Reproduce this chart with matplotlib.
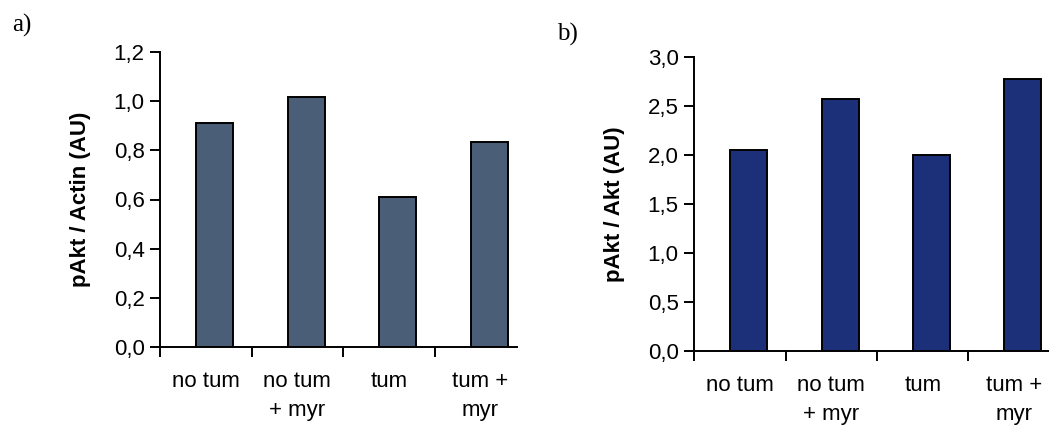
import matplotlib
matplotlib.use("Agg")
import matplotlib.pyplot as plt
from matplotlib.ticker import FuncFormatter, FixedLocator
import numpy as np

categories = ["no tum", "no tum\n+ myr", "tum", "tum +\nmyr"]
values_a = [0.912, 1.018, 0.611, 0.835]
values_b = [2.056, 2.568, 1.999, 2.771]
yticks_a = [0.0, 0.2, 0.4, 0.6, 0.8, 1.0, 1.2]
yticks_b = [0.0, 0.5, 1.0, 1.5, 2.0, 2.5, 3.0]

W, H = 1049, 426
fig = plt.figure(figsize=(W / 100, H / 100), dpi=100)
plt.rcParams['font.family'] = ['Liberation Sans', 'DejaVu Sans']

FS = 16
unit = 91.5  # px per category
off = 54.5 / unit  # bar center offset from boundary tick
bw = 37 / unit

def make_panel(x0, x1, ybot, ytop, vals, ymax, yticks, color, ylabel, ylab_x):
    ax = fig.add_axes([x0 / W, 1 - ybot / H, (x1 - x0) / W, (ybot - ytop) / H])
    xs = np.arange(len(vals))
    ax.bar(xs, vals, width=bw, color=color, edgecolor='black', linewidth=1.4, zorder=3)
    ax.set_xlim(-off, -off + (x1 - x0) / unit)
    ax.set_ylim(0, ymax)
    for s in ['top', 'right']:
        ax.spines[s].set_visible(False)
    for s in ['left', 'bottom']:
        ax.spines[s].set_linewidth(1.4)
        ax.spines[s].set_color('black')
    ax.set_yticks(yticks)
    ax.yaxis.set_major_formatter(FuncFormatter(lambda v, p: f"{v:.1f}".replace('.', ',')))
    ax.tick_params(axis='y', direction='out', length=7, width=1.4, pad=4, labelsize=FS)
    # category boundaries as minor ticks, labels at category centres
    ax.xaxis.set_minor_locator(FixedLocator(xs - off))
    ax.xaxis.set_major_locator(FixedLocator(xs - off + 0.5))
    ax.set_xticklabels(categories, linespacing=1.5)
    ax.tick_params(axis='x', which='major', length=0, pad=17, labelsize=FS)
    ax.tick_params(axis='x', which='minor', direction='out', length=7, width=1.4)
    ax.set_ylabel(ylabel, fontsize=FS, fontweight='bold')
    ax.yaxis.set_label_coords((ylab_x - x0) / (x1 - x0), 0.5)
    return ax

ax1 = make_panel(160, 517, 347, 52, values_a, 1.2, yticks_a, '#4a5e78',
                 "pAkt / Actin (AU)", 91)
ax2 = make_panel(694, 1080, 351, 57, values_b, 3.0, yticks_b, '#1b3079',
                 "pAkt / Akt (AU)", 625)

fig.text(12 / W, 1 - 25 / H, "a)", family='Liberation Serif', fontsize=18, va='center', ha='left')
fig.text(557 / W, 1 - 34 / H, "b)", family='Liberation Serif', fontsize=18, va='center', ha='left')

fig.savefig("out.png", dpi=100)
